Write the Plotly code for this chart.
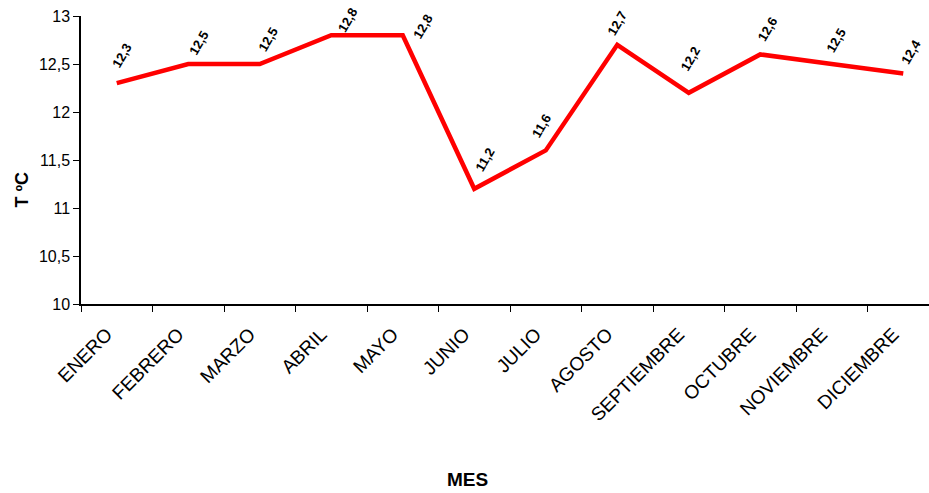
import plotly.graph_objects as go

meses = ["ENERO", "FEBRERO", "MARZO", "ABRIL", "MAYO", "JUNIO", "JULIO",
         "AGOSTO", "SEPTIEMBRE", "OCTUBRE", "NOVIEMBRE", "DICIEMBRE"]
temperaturas = [12.3, 12.5, 12.5, 12.8, 12.8, 11.2, 11.6, 12.7, 12.2, 12.6, 12.5, 12.4]
y_ticks = [10, 10.5, 11, 11.5, 12, 12.5, 13]

# pixel offsets of each data label from its point (layout tuning, not data)
label_dx = [5, 10, 8, 16, 20, 11, -4, 0, 2, 7, 4, 8]
label_dy = [28, 21, 25, 15, 9, 29, 25, 21, 34, 25, 24, 22]

font_family = "Liberation Sans, Arial, sans-serif"

fig = go.Figure()
fig.add_trace(go.Scatter(
    x=meses, y=temperaturas, mode="lines",
    line=dict(color="#FF0000", width=4.5),
    hoverinfo="skip", showlegend=False,
))

annotations = []
for m, t, dx, dy in zip(meses, temperaturas, label_dx, label_dy):
    annotations.append(dict(
        x=m, y=t, xref="x", yref="y",
        text=f"{t:.1f}".replace(".", ","),
        showarrow=False, textangle=-60,
        xshift=dx, yshift=dy,
        font=dict(family=font_family, size=13, color="black", weight="bold"),
    ))

annotations.append(dict(
    x=0.456, y=-0.61, xref="paper", yref="paper", text="<b>MES</b>",
    showarrow=False, font=dict(family=font_family, size=19, color="black"),
    xanchor="center", yanchor="middle",
))
annotations.append(dict(
    x=-0.07, y=0.396, xref="paper", yref="paper", text="<b>T ºC</b>",
    showarrow=False, textangle=-90,
    font=dict(family=font_family, size=18, color="black"),
    xanchor="center", yanchor="middle",
))

fig.update_layout(
    width=929, height=493,
    margin=dict(l=81, r=0, t=16, b=189, autoexpand=False),
    paper_bgcolor="white", plot_bgcolor="white",
    separators=",.",
    font=dict(family=font_family, color="black"),
    annotations=annotations,
    xaxis=dict(
        type="category", range=[-0.5, 11.36], automargin=False,
        tickson="boundaries", ticks="outside", ticklen=6,
        tickcolor="black", tickwidth=1,
        showline=True, linecolor="black", linewidth=1.5,
        showgrid=False, zeroline=False,
        tickangle=-45, tickfont=dict(size=19, family=font_family, color="black"),
        ticklabelshift=-10, ticklabelstandoff=10,
    ),
    yaxis=dict(
        range=[10, 13], tickvals=y_ticks, automargin=False,
        ticks="outside", ticklen=6, tickcolor="black",
        showline=True, linecolor="black", linewidth=1.5,
        showgrid=False, zeroline=False,
        tickfont=dict(size=16, family=font_family, color="black"),
    ),
)

fig.write_html(
    "out.html",
    config={"displayModeBar": False},
    post_script="document.body.style.margin='0';document.body.style.overflow='hidden';",
)
